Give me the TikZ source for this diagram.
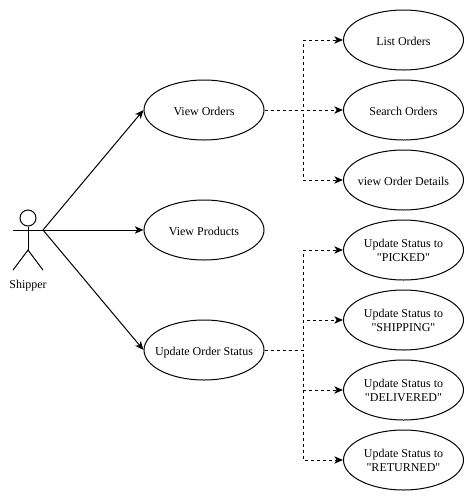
\documentclass[tikz,border=0pt]{standalone}
\usepackage{fontspec}
\newfontfamily\reftext{Liberation Serif}
\newcommand{\upline}{\rule{0pt}{7pt}}
\usetikzlibrary{arrows.meta,shapes.geometric}
\tikzset{
  uc/.style={draw=black,ellipse,line width=0.75pt,minimum width=90pt,minimum height=45pt,inner ysep=0pt,inner xsep=-20pt,align=center,font=\reftext\fontsize{9pt}{11pt}\selectfont},
  ucone/.style={uc,text height=9.5pt,text depth=2pt},
  lbl/.style={inner sep=0pt,text height=9.5pt,text depth=2pt,font=\reftext\fontsize{9pt}{11pt}\selectfont},
  assoc/.style={draw=black,line width=0.75pt,-{Stealth[length=6.5pt,width=5.5pt,inset=1.8pt]}},
  incl/.style={assoc,dash pattern=on 2.25pt off 2.25pt},
  stick/.style={draw=black,line width=0.75pt}
}
\begin{document}
\begin{tikzpicture}[x=0.75pt,y=-0.75pt]
\useasboundingbox (0,0) rectangle (474,501);
\fill[white] (0,0) rectangle (474,501);
% actor
\node[circle,draw=black,line width=0.75pt,minimum size=12pt,inner sep=0pt] (head) at (28,218) {};
\coordinate (hub) at (28,250);
\coordinate (armL) at (13,230);
\coordinate (armR) at (43,230);
\coordinate (footL) at (13,270);
\coordinate (footR) at (43,270);
\draw[stick] (head.south) -- (hub);
\draw[stick] (armL) -- (armR);
\draw[stick] (footL) -- (hub) -- (footR);
\node[lbl] (shipper) at (28,283) {Shipper};
% use cases
\node[ucone] (vo) at (204,110) {View Orders};
\node[ucone] (vp) at (204,230) {View Products};
\node[ucone] (us) at (204,350) {Update Order Status};
\node[ucone] (lo) at (403.5,40) {List Orders};
\node[ucone] (so) at (403.5,110) {Search Orders};
\node[ucone] (vd) at (403.5,180) {view Order Details};
\node[uc] (pk) at (403.5,250) {\upline Update Status to\\"PICKED"};
\node[uc] (sh) at (403.5,320) {\upline Update Status to\\"SHIPPING"};
\node[uc] (de) at (403.5,390) {\upline Update Status to\\"DELIVERED"};
\node[uc] (re) at (403.5,460) {\upline Update Status to\\"RETURNED"};
% associations
\draw[assoc] (armR) -- (vo.west);
\draw[assoc] (armR) -- (vp.west);
\draw[assoc] (armR) -- (us.west);
% dashed
\coordinate (e1) at (303,110);
\coordinate (e2) at (303,350);
\draw[incl] (vo.east) -- (e1) |- (lo.west);
\draw[incl] (vo.east) -- (so.west);
\draw[incl] (vo.east) -- (e1) |- (vd.west);
\draw[incl] (us.east) -- (e2) |- (pk.west);
\draw[incl] (us.east) -- (e2) |- (sh.west);
\draw[incl] (us.east) -- (e2) |- (de.west);
\draw[incl] (us.east) -- (e2) |- (re.west);
\end{tikzpicture}
\end{document}
